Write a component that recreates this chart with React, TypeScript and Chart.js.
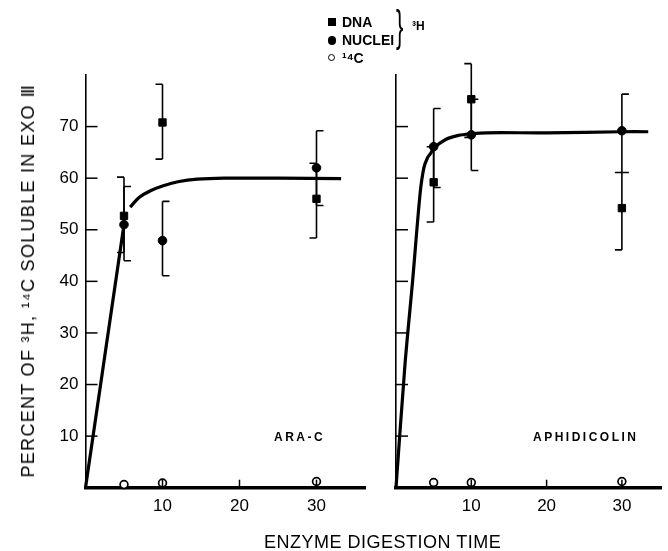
import React, { useEffect, useRef } from "react";
import { Chart, registerables } from "chart.js";
Chart.register(...registerables);

// ---- tick values / labels ----
const yTicks = [10, 20, 30, 40, 50, 60, 70];
const yTickLabels = ["10", "20", "30", "40", "50", "60", "70"];
const xTicks = [10, 20, 30];
const xTickLabels = ["10", "20", "30"];

// ---- ARA-C panel ----
const araTimes = [5, 10, 30];
const araDNA = [52.7, 70.8, 56.0];
const araDNALow = [45.6, 63.7, 48.4];
const araDNAHigh = [60.2, 78.2, 62.9];
const araNuclei = [51.0, 47.9, 62.0];
const araNucleiLow = [44.0, 41.1, 54.7];
const araNucleiHigh = [58.4, 55.5, 69.2];
const araC14 = [0.6, 0.9, 1.2];
const araRiseX = [0, 5];
const araRiseY = [0, 51];
const araFitX = [5.8, 7, 8.5, 10, 12, 14.5, 18, 25, 33.2];
const araFitY = [54.4, 56.3, 57.6, 58.5, 59.3, 59.8, 60, 60, 59.9];

// ---- APHIDICOLIN panel ----
const aphTimes = [5, 10, 30];
const aphDNA = [59.2, 75.3, 54.2];
const aphDNALow = [51.5, 67.9, 46.1];
const aphDNAHigh = [66.1, 82.2, 61.1];
const aphNuclei = [66.1, 68.4, 69.2];
const aphNucleiLow = [58.2, 61.5, 61.1];
const aphNucleiHigh = [73.5, 75.3, 76.3];
const aphC14 = [1.0, 1.0, 1.2];
const aphFitX = [0, 1.2, 2.2, 3.2, 3.7, 4.2, 4.6, 5, 6.6, 8.3, 10, 12, 20, 30, 33.5];
const aphFitY = [0, 24, 40, 57, 62, 64, 64.8, 65.8, 67.5, 68.3, 68.6, 68.8, 68.8, 69, 69];

const FONT = "'Liberation Sans', Arial, sans-serif";

const pts = (xs: number[], ys: number[]) => xs.map((x, i) => ({ x, y: ys[i] }));

const decorPlugin = {
  id: "decor",
  afterDatasetsDraw(chart: any) {
    const { ctx, chartArea, scales } = chart;
    const xs = scales.x, ys = scales.y;
    ctx.save();
    ctx.strokeStyle = "#000";
    // inward ticks
    ctx.lineWidth = 1.5;
    yTicks.forEach((v) => {
      const py = ys.getPixelForValue(v);
      ctx.beginPath();
      ctx.moveTo(chartArea.left, py);
      ctx.lineTo(chartArea.left + 12, py);
      ctx.stroke();
    });
    xTicks.forEach((v) => {
      const px = xs.getPixelForValue(v);
      ctx.beginPath();
      ctx.moveTo(px, chartArea.bottom);
      ctx.lineTo(px, chartArea.bottom - 8);
      ctx.stroke();
    });
    // error bars
    chart.data.datasets.forEach((ds: any) => {
      if (!ds.errLow) return;
      ds.data.forEach((p: any, i: number) => {
        const px = xs.getPixelForValue(p.x);
        const lo = ys.getPixelForValue(ds.errLow[i]);
        const hi = ys.getPixelForValue(ds.errHigh[i]);
        const cap = 7 * ds.capSide;
        ctx.lineWidth = 1.6;
        ctx.beginPath();
        ctx.moveTo(px, hi);
        ctx.lineTo(px, lo);
        ctx.moveTo(px, hi);
        ctx.lineTo(px + cap, hi);
        ctx.moveTo(px, lo);
        ctx.lineTo(px + cap, lo);
        ctx.stroke();
      });
    });
    ctx.restore();
  },
};

function makeConfig(panel: "ara" | "aph") {
  const isAra = panel === "ara";
  const times = isAra ? araTimes : aphTimes;
  const datasets: any[] = [
    {
      label: "DNA",
      data: pts(times, isAra ? araDNA : aphDNA),
      errLow: isAra ? araDNALow : aphDNALow,
      errHigh: isAra ? araDNAHigh : aphDNAHigh,
      capSide: -1,
      pointStyle: "rect",
      pointRadius: 5.2,
      backgroundColor: "#000",
      borderColor: "#000",
      showLine: false,
      clip: false,
      order: 1,
    },
    {
      label: "NUCLEI",
      data: pts(times, isAra ? araNuclei : aphNuclei),
      errLow: isAra ? araNucleiLow : aphNucleiLow,
      errHigh: isAra ? araNucleiHigh : aphNucleiHigh,
      capSide: 1,
      pointStyle: "circle",
      pointRadius: 4.3,
      backgroundColor: "#000",
      borderColor: "#000",
      showLine: false,
      clip: false,
      order: 1,
    },
    {
      label: "14C",
      data: pts(times, isAra ? araC14 : aphC14),
      pointStyle: "circle",
      pointRadius: 3.9,
      pointBorderWidth: 1.7,
      backgroundColor: "#fff",
      borderColor: "#000",
      showLine: false,
      clip: false,
      order: 0,
    },
  ];
  if (isAra) {
    datasets.push({
      label: "rise",
      data: pts(araRiseX, araRiseY),
      showLine: true,
      borderColor: "#000",
      borderWidth: 3.2,
      pointRadius: 0,
      clip: false,
      order: 5,
    });
    datasets.push({
      label: "fit",
      data: pts(araFitX, araFitY),
      showLine: true,
      borderColor: "#000",
      borderWidth: 3.2,
      pointRadius: 0,
      tension: 0.3,
      clip: false,
      order: 5,
    });
  } else {
    datasets.push({
      label: "fit",
      data: pts(aphFitX, aphFitY),
      showLine: true,
      borderColor: "#000",
      borderWidth: 3.2,
      pointRadius: 0,
      tension: 0.3,
      clip: false,
      order: 5,
    });
  }
  return {
    type: "scatter",
    data: { datasets },
    options: {
      animation: false,
      responsive: false,
      events: [],
      layout: { padding: { top: 75, right: isAra ? 17 : 0, left: 0, bottom: 0 } },
      plugins: { legend: { display: false }, tooltip: { enabled: false } },
      scales: {
        x: {
          type: "linear",
          min: 0,
          max: isAra ? 36.3 : 35.3,
          grid: { display: false, drawTicks: false },
          border: { display: true, color: "#000", width: 3.5 },
          afterBuildTicks: (s: any) => {
            s.ticks = xTicks.map((v) => ({ value: v }));
          },
          afterFit: (s: any) => {
            s.height = 551 - 487.7;
          },
          ticks: {
            color: "#000",
            padding: 8,
            autoSkip: false,
            maxRotation: 0,
            font: { family: FONT, size: 17 },
            callback: (v: any) => {
              const i = xTicks.indexOf(v);
              return i >= 0 ? xTickLabels[i] : "";
            },
          },
        },
        y: {
          type: "linear",
          min: 0,
          max: 80,
          grid: { display: false, drawTicks: false },
          border: { display: true, color: "#000", width: 1.6 },
          afterBuildTicks: (s: any) => {
            s.ticks = yTicks.map((v) => ({ value: v }));
          },
          afterFit: (s: any) => {
            s.width = isAra ? 85.5 : 14;
          },
          ticks: {
            display: isAra,
            color: "#000",
            padding: 7,
            autoSkip: false,
            font: { family: FONT, size: 17 },
            callback: (v: any) => {
              const i = yTicks.indexOf(v);
              return i >= 0 ? yTickLabels[i] : "";
            },
          },
        },
      },
    },
    plugins: [decorPlugin],
  } as any;
}

function Panel({ panel, left, width }: { panel: "ara" | "aph"; left: number; width: number }) {
  const ref = useRef<HTMLCanvasElement>(null);
  useEffect(() => {
    if (!ref.current) return;
    const chart = new Chart(ref.current, makeConfig(panel));
    return () => chart.destroy();
  }, [panel]);
  return (
    <canvas
      ref={ref}
      width={width}
      height={551}
      style={{ position: "absolute", left, top: 0, width, height: 551 }}
    />
  );
}

const txt = (extra: React.CSSProperties): React.CSSProperties => ({
  position: "absolute",
  fontFamily: FONT,
  color: "#000",
  whiteSpace: "nowrap",
  lineHeight: 1,
  ...extra,
});

export default function App() {
  return (
    <div
      style={{
        position: "absolute",
        left: 0,
        top: 0,
        width: 668,
        height: 551,
        background: "#fff",
        overflow: "hidden",
      }}
    >
      <Panel panel="ara" left={0} width={382} />
      <Panel panel="aph" left={382} width={286} />

      {/* legend */}
      <div style={{ position: "absolute", left: 327.5, top: 17.5, width: 8, height: 8, background: "#000" }} />
      <div style={txt({ left: 342, top: 15, fontSize: 14, fontWeight: 700 })}>DNA</div>
      <div style={{ position: "absolute", left: 327.5, top: 36, width: 8.5, height: 8.5, borderRadius: "50%", background: "#000" }} />
      <div style={txt({ left: 342, top: 33, fontSize: 14, fontWeight: 700 })}>NUCLEI</div>
      <div style={{ position: "absolute", left: 327.5, top: 53.5, width: 5.5, height: 5.5, borderRadius: "50%", border: "1.7px solid #000" }} />
      <div style={txt({ left: 342, top: 51, fontSize: 14, fontWeight: 700 })}>¹⁴C</div>
      <div style={txt({ left: 396, top: 4, fontSize: 44, fontWeight: 300, transform: "scaleX(0.5)", transformOrigin: "left top" })}>{"}"}</div>
      <div style={txt({ left: 412, top: 20, fontSize: 12, fontWeight: 700 })}>³H</div>

      {/* panel labels */}
      <div style={txt({ left: 274, top: 431, fontSize: 12, fontWeight: 700, letterSpacing: 2.5 })}>ARA-C</div>
      <div style={txt({ left: 533, top: 431, fontSize: 12, fontWeight: 700, letterSpacing: 2.5 })}>APHIDICOLIN</div>

      {/* axis titles */}
      <div style={txt({ left: 264, top: 533, fontSize: 18, letterSpacing: 0.5 })}>ENZYME DIGESTION TIME</div>
      <div
        style={txt({
          left: 28,
          top: 281,
          fontSize: 18,
          letterSpacing: 1.3,
          transform: "translate(-50%, -50%) rotate(-90deg)",
        })}
      >
        PERCENT OF ³H, ¹⁴C SOLUBLE IN EXO Ⅲ
      </div>
    </div>
  );
}
